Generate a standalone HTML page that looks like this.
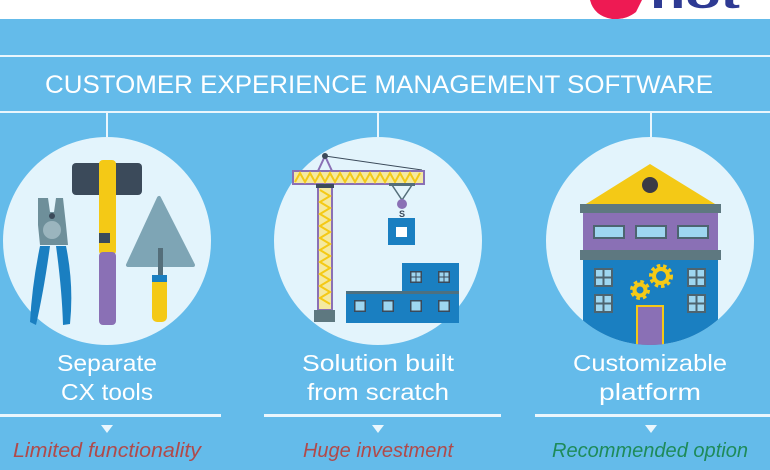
<!DOCTYPE html>
<html><head><meta charset="utf-8"><style>
html,body{margin:0;padding:0;width:770px;height:470px;overflow:hidden;background:#fff}
svg{display:block}
</style></head><body>
<svg width="770" height="470" viewBox="0 0 770 470" xmlns="http://www.w3.org/2000/svg">
<rect x="0" y="0" width="770" height="19" fill="#fff"/>
<path d="M590 0 L642 0 L636 12 Q626 20 612 19 Q594 16 590 0Z" fill="#EE1A53"/>
<text x="650" y="8" font-family="Liberation Sans, sans-serif" font-weight="bold" font-size="34" fill="#2E3A93" textLength="90" lengthAdjust="spacingAndGlyphs">hot</text>
<rect x="0" y="19" width="770" height="451" fill="#64BBEA"/>
<rect x="0" y="55" width="770" height="2" fill="#EAF6FD"/>
<rect x="0" y="111" width="770" height="2" fill="#EAF6FD"/>
<text x="379" y="93" text-anchor="middle" font-family="Liberation Sans, sans-serif" font-size="25" fill="#fff" textLength="668" lengthAdjust="spacingAndGlyphs">CUSTOMER EXPERIENCE MANAGEMENT SOFTWARE</text>
<g stroke="#EAF6FD" stroke-width="2">
<line x1="107" y1="112" x2="107" y2="138"/><line x1="378" y1="112" x2="378" y2="138"/><line x1="651" y1="112" x2="651" y2="138"/>
</g>
<defs><clipPath id="c3"><circle cx="650" cy="241" r="104"/></clipPath></defs>
<circle cx="107" cy="241" r="104" fill="#E3F4FC"/>
<circle cx="378" cy="241" r="104" fill="#E3F4FC"/>
<circle cx="650" cy="241" r="104" fill="#E3F4FC"/>
<!-- tools -->
<rect x="72" y="163" width="70" height="32" rx="4" fill="#3B4A5A"/>
<rect x="99" y="160" width="17" height="95" rx="4" fill="#F4C916"/>
<rect x="99" y="252" width="17" height="73" rx="4" fill="#8A70B5"/>
<rect x="99" y="233" width="11" height="10" fill="#3B4A5A"/>
<polygon points="159,198 128,265 193,265" fill="#7EA5B5" stroke="#7EA5B5" stroke-width="4" stroke-linejoin="round"/>
<rect x="158" y="248" width="5" height="30" fill="#546E7A"/>
<rect x="152" y="275" width="15" height="47" rx="5" fill="#F4C916"/>
<rect x="152" y="275" width="15" height="7" fill="#1A7FC1"/>
<path d="M38 198 L48 198 L50 212 L54 212 L56 198 L63 198 L66 225 L68 245 L40 245 L38 225Z" fill="#6E8F9A"/>
<circle cx="52" cy="230" r="9" fill="#9BB5BE"/>
<circle cx="52" cy="216" r="3" fill="#3B4A5A"/>
<path d="M40 246 L50 246 Q44 290 36 325 L30 322 Q32 285 40 246Z" fill="#1A7FC1"/>
<path d="M56 246 L66 246 Q74 285 70 324 L63 325 Q62 290 56 246Z" fill="#1A7FC1"/>
<!-- crane -->
<line x1="325" y1="156" x2="422" y2="170" stroke="#3B4A5A" stroke-width="1"/>
<polygon points="325,156 318,171 332,171" fill="none" stroke="#8A70B5" stroke-width="2"/>
<circle cx="325" cy="156" r="3" fill="#3B4A5A"/>
<rect x="293" y="171" width="131" height="13" fill="#F4E9A0" stroke="#8A70B5" stroke-width="2"/>
<polyline points="295,182 300,173 305,182 310,173 315,182 320,173 325,182 330,173 335,182 340,173 345,182 350,173 355,182 360,173 365,182 370,173 375,182 380,173 385,182 390,173 395,182 400,173 405,182 410,173 415,182 420,173" fill="none" stroke="#F4C916" stroke-width="2"/>
<rect x="318" y="186" width="14" height="124" fill="#F4E9A0" stroke="#8A70B5" stroke-width="2"/>
<polyline points="320,190 330,196 320,202 330,208 320,214 330,220 320,226 330,232 320,238 330,244 320,250 330,256 320,262 330,268 320,274 330,280 320,286 330,292 320,298 330,304" fill="none" stroke="#F4C916" stroke-width="2"/>
<rect x="316" y="184" width="18" height="4" fill="#3B4A5A"/>
<rect x="314" y="310" width="21" height="12" fill="#5E7880"/>
<polyline points="392,185 402,200 412,185" fill="none" stroke="#546E7A" stroke-width="1.5"/>
<rect x="389" y="183" width="26" height="3" fill="#546E7A"/>
<circle cx="402" cy="204" r="5" fill="#8A70B5"/>
<text x="402" y="217" text-anchor="middle" font-family="Liberation Sans, sans-serif" font-size="9" font-weight="bold" fill="#3B4A5A">S</text>
<rect x="388" y="218" width="27" height="27" fill="#1A7FC1"/>
<rect x="396" y="227" width="11" height="10" fill="#fff"/>
<rect x="402" y="263" width="57" height="30" fill="#1A7FC1"/>
<rect x="346" y="292" width="113" height="31" fill="#1A7FC1"/>
<rect x="346" y="291" width="113" height="3" fill="#4D7080"/>
<g fill="#3B4A5A">
<rect x="410" y="271" width="12" height="12"/><rect x="438" y="271" width="12" height="12"/>
<rect x="354" y="300" width="12" height="12"/><rect x="382" y="300" width="12" height="12"/><rect x="410" y="300" width="12" height="12"/><rect x="438" y="300" width="12" height="12"/>
</g>
<g fill="#9ED6F0">
<rect x="411.5" y="272.5" width="4" height="4"/><rect x="416.5" y="272.5" width="4" height="4"/><rect x="411.5" y="277.5" width="4" height="4"/><rect x="416.5" y="277.5" width="4" height="4"/>
<rect x="439.5" y="272.5" width="4" height="4"/><rect x="444.5" y="272.5" width="4" height="4"/><rect x="439.5" y="277.5" width="4" height="4"/><rect x="444.5" y="277.5" width="4" height="4"/>
<rect x="355.5" y="301.5" width="9" height="9"/><rect x="383.5" y="301.5" width="9" height="9"/><rect x="411.5" y="301.5" width="9" height="9"/><rect x="439.5" y="301.5" width="9" height="9"/>
</g>
<!-- building -->
<g clip-path="url(#c3)">
<polygon points="650,164 586,204 715,204" fill="#F4C916"/>
<circle cx="650" cy="185" r="8" fill="#3B3B45"/>
<rect x="580" y="204" width="141" height="9" fill="#5E7880"/>
<rect x="583" y="213" width="135" height="37" fill="#8A70B5"/>
<g fill="#9ED6F0" stroke="#4D6470" stroke-width="2">
<rect x="594" y="226" width="30" height="12"/><rect x="636" y="226" width="30" height="12"/><rect x="678" y="226" width="30" height="12"/>
</g>
<rect x="580" y="250" width="141" height="10" fill="#5E7880"/>
<rect x="583" y="260" width="135" height="90" fill="#1A7FC1"/>
<g fill="#9ED6F0" stroke="#4D6470" stroke-width="2">
<rect x="595" y="269" width="17" height="17"/><rect x="595" y="295" width="17" height="17"/>
<rect x="688" y="269" width="17" height="17"/><rect x="688" y="295" width="17" height="17"/>
</g>
<g stroke="#4D6470" stroke-width="2">
<line x1="603.5" y1="269" x2="603.5" y2="286"/><line x1="595" y1="277.5" x2="612" y2="277.5"/>
<line x1="603.5" y1="295" x2="603.5" y2="312"/><line x1="595" y1="303.5" x2="612" y2="303.5"/>
<line x1="696.5" y1="269" x2="696.5" y2="286"/><line x1="688" y1="277.5" x2="705" y2="277.5"/>
<line x1="696.5" y1="295" x2="696.5" y2="312"/><line x1="688" y1="303.5" x2="705" y2="303.5"/>
</g>
<rect x="637" y="306" width="26" height="40" fill="#8A70B5" stroke="#F4C916" stroke-width="2"/>
<circle cx="661" cy="276" r="9" fill="none" stroke="#F4C916" stroke-width="6" stroke-dasharray="3 2.5"/>
<circle cx="661" cy="276" r="7" fill="none" stroke="#F4C916" stroke-width="4"/>
<circle cx="640" cy="290" r="7" fill="none" stroke="#F4C916" stroke-width="6" stroke-dasharray="3 2.5"/>
<circle cx="640" cy="290" r="5.5" fill="none" stroke="#F4C916" stroke-width="4"/>
</g>
<!-- labels -->
<g font-family="Liberation Sans, sans-serif" font-size="23" fill="#fff" text-anchor="middle">
<text x="107" y="371" textLength="100" lengthAdjust="spacingAndGlyphs">Separate</text><text x="107" y="400" textLength="92" lengthAdjust="spacingAndGlyphs">CX tools</text>
<text x="378" y="371" textLength="152" lengthAdjust="spacingAndGlyphs">Solution built</text><text x="378" y="400" textLength="142" lengthAdjust="spacingAndGlyphs">from scratch</text>
<text x="650" y="371" textLength="154" lengthAdjust="spacingAndGlyphs">Customizable</text><text x="650" y="400" textLength="102" lengthAdjust="spacingAndGlyphs">platform</text>
</g>
<g fill="#EAF6FD">
<rect x="0" y="414" width="221" height="3"/><rect x="264" y="414" width="237" height="3"/><rect x="535" y="414" width="235" height="3"/>
<polygon points="101,425 113,425 107,433"/>
<polygon points="372,425 384,425 378,433"/>
<polygon points="645,425 657,425 651,433"/>
</g>
<g font-family="Liberation Sans, sans-serif" font-size="20" font-style="italic" text-anchor="middle">
<text x="107" y="457" fill="#B04A4A" textLength="188" lengthAdjust="spacingAndGlyphs">Limited functionality</text>
<text x="378" y="457" fill="#B04A4A" textLength="150" lengthAdjust="spacingAndGlyphs">Huge investment</text>
<text x="650" y="457" fill="#1E8B5A" textLength="196" lengthAdjust="spacingAndGlyphs">Recommended option</text>
</g>
</svg>
</body></html>
